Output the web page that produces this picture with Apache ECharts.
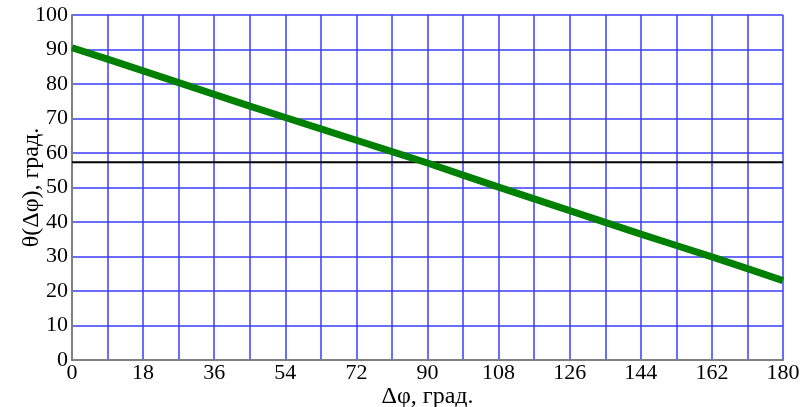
<!DOCTYPE html>
<html>
<head>
<meta charset="utf-8">
<script src="https://cdn.jsdelivr.net/npm/echarts@6/dist/echarts.min.js"></script>
<style>
  html, body { margin: 0; padding: 0; background: #fff; }
  #chart { width: 800px; height: 407px; }
</style>
</head>
<body>
<div id="chart"></div>
<script>
// Δφ, deg (every 9 deg, matching the grid)
const phi = [0, 9, 18, 27, 36, 45, 54, 63, 72, 81, 90, 99, 108, 117, 126, 135, 144, 153, 162, 171, 180];
// θ(Δφ), deg
const theta = [90.5, 87.2, 83.8, 80.4, 77.0, 73.6, 70.3, 67.0, 63.7, 60.4, 57.1, 53.6, 50.1, 46.7, 43.3, 39.9, 36.5, 33.2, 29.9, 26.5, 23.0];
// horizontal reference level (1 rad in degrees)
const limitX = [0, 180];
const limitY = [57.3, 57.3];

const font = '"Liberation Serif", "DejaVu Serif", serif';
const blue = '#3b3bff';
const frame = '#808080';

const chart = echarts.init(document.getElementById('chart'));

const hiddenAxis = {
  axisLine: { show: true, lineStyle: { color: frame, width: 2 } },
  axisTick: { show: false },
  axisLabel: { show: false },
  splitLine: { show: false }
};

chart.setOption({
  animation: false,
  grid: { left: 72, right: 17, top: 15, bottom: 47, outerBoundsMode: 'none', containLabel: false },
  xAxis: [{
    type: 'value',
    min: 0, max: 180, interval: 9,
    name: 'Δφ, град.',
    nameLocation: 'middle',
    nameGap: 37,
    nameMoveOverlap: false,
    nameTextStyle: { fontFamily: font, fontSize: 24, color: '#000', verticalAlign: 'middle', padding: 0 },
    axisLine: { lineStyle: { color: frame, width: 2 } },
    axisTick: { show: false },
    axisLabel: {
      fontFamily: font, fontSize: 22, color: '#000', margin: 2,
      formatter: v => (v % 18 === 0 ? String(v) : '')
    },
    splitLine: { lineStyle: { color: blue, width: 1.5 } }
  }, Object.assign({ type: 'value', position: 'top', min: 0, max: 180 }, hiddenAxis)],
  yAxis: [{
    type: 'value',
    min: 0, max: 100, interval: 10,
    name: 'θ(Δφ), град.',
    nameLocation: 'middle',
    nameGap: 40,
    nameMoveOverlap: false,
    nameTextStyle: { fontFamily: font, fontSize: 24, color: '#000', verticalAlign: 'middle', padding: 0 },
    axisLine: { lineStyle: { color: frame, width: 2 } },
    axisTick: { show: false },
    axisLabel: { fontFamily: font, fontSize: 22, color: '#000', margin: 4 },
    splitLine: { lineStyle: { color: blue, width: 1.5 } }
  }, Object.assign({ type: 'value', position: 'right', min: 0, max: 100 }, hiddenAxis)],
  series: [{
    type: 'line',
    data: limitX.map((x, i) => [x, limitY[i]]),
    symbol: 'none',
    lineStyle: { color: '#000', width: 2 },
    z: 3
  }, {
    type: 'line',
    data: phi.map((x, i) => [x, theta[i]]),
    symbol: 'none',
    lineStyle: { color: '#008000', width: 7 },
    z: 4
  }]
});
</script>
</body>
</html>
